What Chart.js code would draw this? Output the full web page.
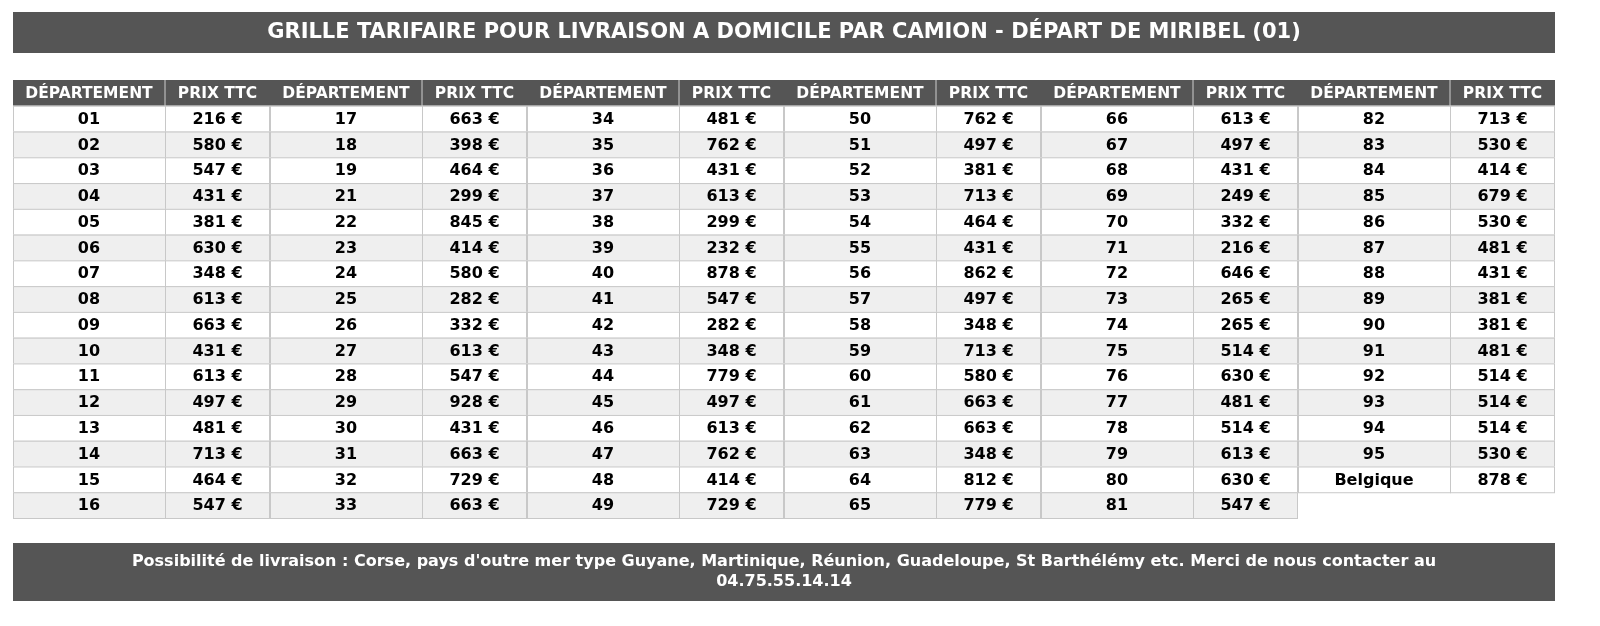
<!DOCTYPE html>
<html><head><meta charset="utf-8">
<script src="https://cdn.jsdelivr.net/npm/chart.js@4/dist/chart.umd.min.js"></script>
<style>html,body{margin:0;padding:0;background:#fff;overflow:hidden}canvas{display:block}</style>
</head><body><canvas id="c" width="1600" height="626"></canvas>
<script>
const title = "GRILLE TARIFAIRE POUR LIVRAISON A DOMICILE PAR CAMION - DÉPART DE MIRIBEL (01)";
const headers = ["DÉPARTEMENT", "PRIX TTC"];
const footerLines = ["Possibilité de livraison : Corse, pays d'outre mer type Guyane, Martinique, Réunion, Guadeloupe, St Barthélémy etc. Merci de nous contacter au", "04.75.55.14.14"];
const departments = [
 ["01","02","03","04","05","06","07","08","09","10","11","12","13","14","15","16"],
 ["17","18","19","21","22","23","24","25","26","27","28","29","30","31","32","33"],
 ["34","35","36","37","38","39","40","41","42","43","44","45","46","47","48","49"],
 ["50","51","52","53","54","55","56","57","58","59","60","61","62","63","64","65"],
 ["66","67","68","69","70","71","72","73","74","75","76","77","78","79","80","81"],
 ["82","83","84","85","86","87","88","89","90","91","92","93","94","95","Belgique"]
];
const prices = [
 [216,580,547,431,381,630,348,613,663,431,613,497,481,713,464,547],
 [663,398,464,299,845,414,580,282,332,613,547,928,431,663,729,663],
 [481,762,431,613,299,232,878,547,282,348,779,497,613,762,414,729],
 [762,497,381,713,464,431,862,497,348,713,580,663,663,348,812,779],
 [613,497,431,249,332,216,646,265,265,514,630,481,514,613,630,547],
 [713,530,414,679,530,481,431,381,381,481,514,514,514,530,878]
];

const tablePlugin = {
  id: 'table',
  afterDraw(chart) {
    const ctx = chart.ctx, X = chart.scales.x, Y = chart.scales.y;
    const px = v => X.getPixelForValue(v), py = v => Y.getPixelForValue(v);
    const dark = '#555555';
    ctx.save();
    ctx.textAlign = 'center'; ctx.textBaseline = 'middle';
    ctx.fillStyle = dark;
    ctx.fillRect(px(13), py(12), px(1555) - px(13), py(53) - py(12));
    ctx.fillStyle = '#fff'; ctx.font = 'bold 21px "DejaVu Sans"';
    ctx.fillText(title, (px(13) + px(1555)) / 2, py(33));
    const top = 80, rh = (518 - 80) / 17, gw = (1555 - 13) / 6, dw = 152;
    for (let g = 0; g < 6; g++) {
      const x0 = 13 + g * gw, x1 = x0 + dw, x2 = x0 + gw;
      ctx.fillStyle = dark;
      ctx.fillRect(px(x0), py(top), px(x2) - px(x0), py(top + rh) - py(top));
      ctx.fillStyle = '#fff'; ctx.font = 'bold 15.5px "DejaVu Sans"';
      ctx.fillText(headers[0], px((x0 + x1) / 2), py(top + rh / 2 + 1));
      ctx.fillText(headers[1], px((x1 + x2) / 2), py(top + rh / 2 + 1));
      ctx.strokeStyle = '#cfcfcf'; ctx.lineWidth = 1;
      ctx.beginPath(); ctx.moveTo(px(x1), py(top)); ctx.lineTo(px(x1), py(top + rh)); ctx.stroke();
      departments[g].forEach((d, i) => {
        const y0 = top + rh * (i + 1);
        ctx.fillStyle = i % 2 ? '#efefef' : '#ffffff';
        ctx.fillRect(px(x0), py(y0), px(x2) - px(x0), py(y0 + rh) - py(y0));
        ctx.strokeStyle = '#c8c8c8';
        ctx.strokeRect(px(x0) + 0.5, py(y0) + 0.5, px(x1) - px(x0), py(y0 + rh) - py(y0));
        ctx.strokeRect(px(x1) + 0.5, py(y0) + 0.5, px(x2) - px(x1) - 1, py(y0 + rh) - py(y0));
        ctx.fillStyle = '#000'; ctx.font = 'bold 16px "DejaVu Sans"';
        ctx.fillText(d, px((x0 + x1) / 2), py(y0 + rh / 2 + 1));
        ctx.fillText(prices[g][i] + ' €', px((x1 + x2) / 2), py(y0 + rh / 2 + 1));
      });
    }
    ctx.fillStyle = dark;
    ctx.fillRect(px(13), py(543), px(1555) - px(13), py(601) - py(543));
    ctx.fillStyle = '#fff'; ctx.font = 'bold 16px "DejaVu Sans"';
    ctx.fillText(footerLines[0], px(784), py(562));
    ctx.fillText(footerLines[1], px(784), py(582));
    ctx.restore();
  }
};

new Chart(document.getElementById('c'), {
  type: 'scatter',
  data: { datasets: [{ data: [] }] },
  options: {
    responsive: false, animation: false, devicePixelRatio: 1,
    layout: { padding: 0 },
    plugins: { legend: { display: false }, tooltip: { enabled: false } },
    scales: {
      x: { type: 'linear', min: 0, max: 1600, display: false },
      y: { type: 'linear', min: 0, max: 626, reverse: true, display: false }
    }
  },
  plugins: [tablePlugin]
});
</script></body></html>
